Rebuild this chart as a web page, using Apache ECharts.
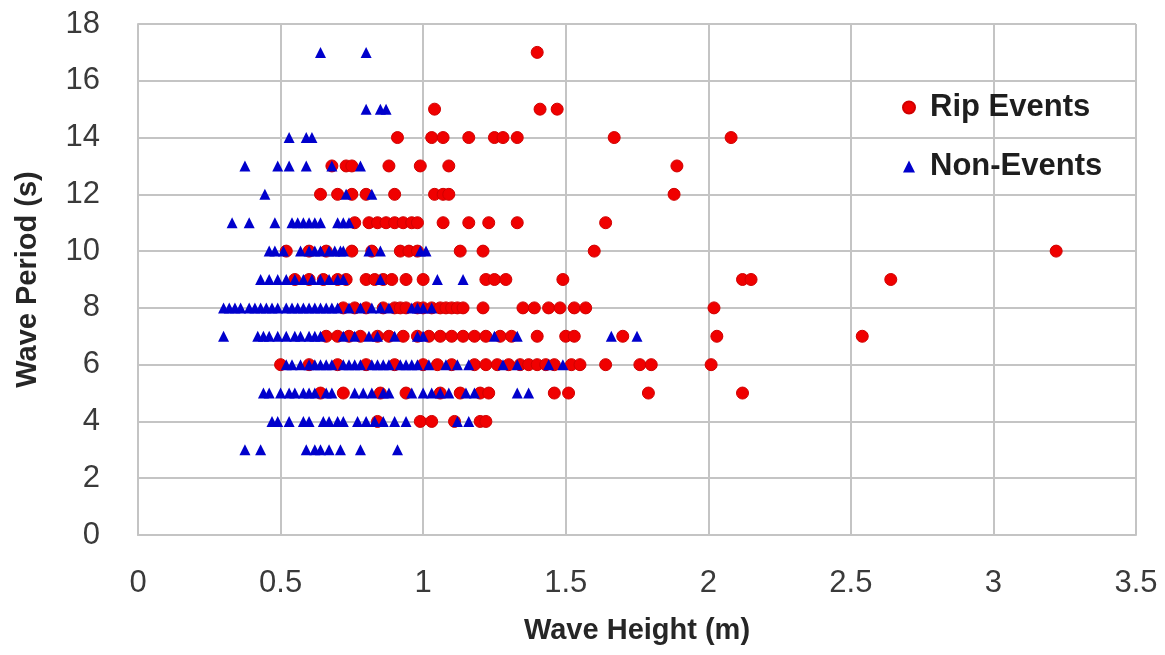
<!DOCTYPE html>
<html>
<head>
<meta charset="utf-8">
<script src="https://cdn.jsdelivr.net/npm/echarts@6/dist/echarts.min.js"></script>
<style>
html,body{margin:0;padding:0;background:#fff;}
#chart{width:1165px;height:655px;}
</style>
</head>
<body>
<div id="chart"></div>
<script>
// Wave height (m) readings of rip events, grouped by wave period (s)
const ripP17 = [1.40];
const ripP15 = [1.04, 1.41, 1.47];
const ripP14 = [0.91, 1.03, 1.07, 1.16, 1.25, 1.28, 1.33, 1.67, 2.08];
const ripP13 = [0.68, 0.73, 0.75, 0.88, 0.99, 1.09, 1.89];
const ripP12 = [0.64, 0.70, 0.75, 0.80, 0.90, 1.04, 1.07, 1.09, 1.88];
const ripP11 = [0.76, 0.81, 0.84, 0.87, 0.90, 0.93, 0.96, 0.98, 1.07, 1.16, 1.23, 1.33, 1.64];
const ripP10 = [0.52, 0.60, 0.66, 0.75, 0.82, 0.92, 0.95, 0.98, 1.13, 1.21, 1.60, 3.22];
const ripP9  = [0.55, 0.60, 0.65, 0.70, 0.73, 0.80, 0.83, 0.86, 0.89, 0.94, 1.00, 1.22, 1.25, 1.29, 1.49, 2.12, 2.15, 2.64];
const ripP8  = [0.72, 0.76, 0.80, 0.86, 0.90, 0.92, 0.94, 0.98, 1.00, 1.03, 1.06, 1.08, 1.10, 1.12, 1.14, 1.21, 1.35, 1.39, 1.44, 1.48, 1.53, 1.57, 2.02];
const ripP7  = [0.66, 0.70, 0.74, 0.78, 0.84, 0.88, 0.93, 0.98, 1.02, 1.06, 1.10, 1.14, 1.18, 1.22, 1.27, 1.31, 1.40, 1.50, 1.53, 1.70, 2.03, 2.54];
const ripP6  = [0.50, 0.60, 0.70, 0.80, 0.90, 1.00, 1.05, 1.10, 1.18, 1.22, 1.26, 1.30, 1.34, 1.37, 1.40, 1.43, 1.46, 1.52, 1.55, 1.64, 1.76, 1.80, 2.01];
const ripP5  = [0.64, 0.72, 0.85, 0.94, 1.06, 1.13, 1.20, 1.23, 1.46, 1.51, 1.79, 2.12];
const ripP4  = [0.84, 0.99, 1.03, 1.11, 1.20, 1.22];

// Wave height (m) readings of non-events, grouped by wave period (s)
const nonP17 = [0.64, 0.80];
const nonP15 = [0.80, 0.85, 0.87];
const nonP14 = [0.53, 0.59, 0.61];
const nonP13 = [0.375, 0.49, 0.53, 0.59, 0.68, 0.78];
const nonP12 = [0.445, 0.73, 0.82];
const nonP11 = [0.33, 0.39, 0.48, 0.54, 0.56, 0.58, 0.60, 0.62, 0.64, 0.70, 0.72, 0.74];
const nonP10 = [0.46, 0.48, 0.51, 0.57, 0.60, 0.62, 0.64, 0.67, 0.69, 0.71, 0.72, 0.81, 0.85, 0.99, 1.01];
const nonP9  = [0.43, 0.46, 0.49, 0.52, 0.55, 0.58, 0.61, 0.64, 0.67, 0.70, 0.72, 0.85, 1.05, 1.14];
const nonP8  = [0.30, 0.32, 0.34, 0.36, 0.39, 0.41, 0.43, 0.45, 0.47, 0.49, 0.52, 0.54, 0.56, 0.58, 0.60, 0.62, 0.64, 0.66, 0.68, 0.70, 0.74, 0.78, 0.82, 0.85, 0.88, 0.96, 0.98, 1.00, 1.03];
const nonP7  = [0.30, 0.42, 0.44, 0.46, 0.49, 0.52, 0.55, 0.57, 0.60, 0.62, 0.64, 0.72, 0.76, 0.81, 0.84, 0.90, 0.98, 1.00, 1.25, 1.33, 1.66, 1.75];
const nonP6  = [0.52, 0.54, 0.57, 0.60, 0.62, 0.64, 0.66, 0.68, 0.72, 0.74, 0.76, 0.78, 0.82, 0.84, 0.86, 0.88, 0.92, 0.94, 0.96, 0.98, 1.02, 1.08, 1.12, 1.16, 1.28, 1.33, 1.44, 1.49];
const nonP5  = [0.44, 0.46, 0.50, 0.53, 0.55, 0.58, 0.60, 0.62, 0.66, 0.68, 0.76, 0.79, 0.82, 0.86, 0.88, 0.96, 1.00, 1.03, 1.06, 1.09, 1.15, 1.18, 1.33, 1.37];
const nonP4  = [0.47, 0.49, 0.53, 0.58, 0.60, 0.65, 0.67, 0.70, 0.72, 0.77, 0.80, 0.83, 0.86, 0.90, 0.94, 1.12, 1.16];
const nonP3  = [0.375, 0.43, 0.59, 0.62, 0.64, 0.67, 0.71, 0.78, 0.91];

const seriesNames = ['Rip Events', 'Non-Events'];
const xTitle = 'Wave Height (m)';
const yTitle = 'Wave Period (s)';

const ripRows = [[17, ripP17], [15, ripP15], [14, ripP14], [13, ripP13], [12, ripP12], [11, ripP11], [10, ripP10], [9, ripP9], [8, ripP8], [7, ripP7], [6, ripP6], [5, ripP5], [4, ripP4]];
const nonRows = [[17, nonP17], [15, nonP15], [14, nonP14], [13, nonP13], [12, nonP12], [11, nonP11], [10, nonP10], [9, nonP9], [8, nonP8], [7, nonP7], [6, nonP6], [5, nonP5], [4, nonP4], [3, nonP3]];

function toPoints(rows) {
  const out = [];
  rows.forEach(([period, heights]) => heights.forEach(h => out.push([h, period])));
  return out;
}

const FONT = '"Liberation Sans", Arial, sans-serif';
const chart = echarts.init(document.getElementById('chart'), null, {renderer: 'canvas'});
chart.setOption({
  animation: false,
  backgroundColor: '#ffffff',
  grid: {left: 138, right: 29, top: 24, bottom: 120, containLabel: false},
  legend: {
    orient: 'vertical',
    left: 897,
    top: 87,
    itemGap: 28,
    itemWidth: 12,
    itemHeight: 12,
    textStyle: {fontFamily: FONT, fontSize: 31, lineHeight: 31, fontWeight: 'bold', color: '#1e1e1e', padding: [0, 0, 0, 10]},
    data: [
      {name: seriesNames[0], icon: 'circle'},
      {name: seriesNames[1], icon: 'triangle'}
    ]
  },
  xAxis: {
    type: 'value', min: 0, max: 3.5, interval: 0.5,
    name: xTitle, nameLocation: 'middle', nameGap: 81,
    nameTextStyle: {fontFamily: FONT, fontSize: 29, fontWeight: 'bold', color: '#262626'},
    axisLine: {show: true, lineStyle: {color: '#c4c4c4', width: 2}},
    axisTick: {show: false},
    axisLabel: {fontFamily: FONT, fontSize: 31, color: '#3a3a3a', margin: 33},
    splitLine: {show: true, lineStyle: {color: '#c4c4c4', width: 2}}
  },
  yAxis: {
    type: 'value', min: 0, max: 18, interval: 2,
    name: yTitle, nameLocation: 'middle', nameGap: 96, nameRotate: 90,
    nameTextStyle: {fontFamily: FONT, fontSize: 29, fontWeight: 'bold', color: '#262626'},
    axisLine: {show: true, lineStyle: {color: '#c4c4c4', width: 2}},
    axisTick: {show: false},
    axisLabel: {fontFamily: FONT, fontSize: 31, color: '#3a3a3a', margin: 38},
    splitLine: {show: true, lineStyle: {color: '#c4c4c4', width: 2}}
  },
  series: [
    {
      name: seriesNames[0], type: 'scatter', symbol: 'circle', symbolSize: 12,
      itemStyle: {color: '#f00000', borderColor: '#d00000', borderWidth: 1, opacity: 1},
      data: toPoints(ripRows), z: 2
    },
    {
      name: seriesNames[1], type: 'scatter', symbol: 'triangle', symbolSize: 11,
      itemStyle: {color: '#0000cc', opacity: 1},
      data: toPoints(nonRows), z: 3
    }
  ]
});
</script>
</body>
</html>
